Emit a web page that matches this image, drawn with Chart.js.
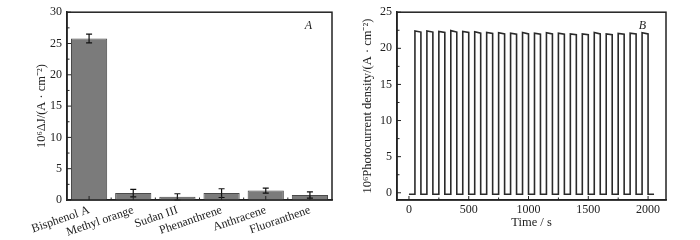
<!DOCTYPE html>
<html>
<head>
<meta charset="utf-8">
<script src="https://cdn.jsdelivr.net/npm/chart.js@4/dist/chart.umd.min.js"></script>
<style>
  body { margin: 0; background: #fff; }
  .wrap { position: relative; width: 700px; height: 240px; }
  canvas { position: absolute; top: 0; }
  #barChart { left: 0; }
  #pulseChart { left: 350px; }
</style>
</head>
<body>
<div class="wrap">
  <canvas id="barChart" width="350" height="240"></canvas>
  <canvas id="pulseChart" width="350" height="240"></canvas>
</div>
<script>
// panel A: selectivity
const compounds = ['Bisphenol A', 'Methyl orange', 'Sudan III', 'Phenanthrene', 'Anthracene', 'Fluoranthene'];
const deltaJ = [25.8, 1.1, 0.5, 1.1, 1.5, 0.8];
const deltaErr = [0.7, 0.6, 0.5, 0.7, 0.4, 0.5];
const yTicksA = [0, 5, 10, 15, 20, 25, 30];

// panel B: on/off photocurrent
const lightOn = [50, 150, 250, 350, 450, 550, 650, 750, 850, 950, 1050, 1150, 1250, 1350, 1450, 1550, 1650, 1750, 1850, 1950];
const lightOff = [100, 200, 300, 400, 500, 600, 700, 800, 900, 1000, 1100, 1200, 1300, 1400, 1500, 1600, 1700, 1800, 1900, 2000];
const peakStart = [22.4, 22.4, 22.35, 22.45, 22.35, 22.3, 22.2, 22.15, 22.1, 22.2, 22.1, 22.15, 22.1, 22.0, 22.0, 22.2, 22.0, 22.05, 22.1, 22.15];
const peakEnd = [22.25, 22.25, 22.2, 22.25, 22.2, 22.1, 22.05, 22.0, 21.95, 22.0, 21.95, 22.0, 21.95, 21.9, 21.9, 22.0, 21.9, 21.95, 22.0, 22.0];
const darkLevel = -0.2;
const runStart = 0;
const runEnd = 2050;
const yTicksB = [0, 5, 10, 15, 20, 25];
const xTicksB = [0, 500, 1000, 1500, 2000];

const serif = '"Liberation Serif", "Times New Roman", serif';
const ink = '#222';

// frame + inward ticks
const frameTicks = {
  id: 'frameTicks',
  afterDraw(chart, args, opts) {
    const { ctx, chartArea: a, scales } = chart;
    ctx.save();
    ctx.strokeStyle = ink;
    ctx.lineWidth = 1.5;
    ctx.strokeRect(a.left, a.top, a.right - a.left, a.bottom - a.top);
    ctx.lineWidth = 1;
    ctx.beginPath();
    (opts.yMajor || []).forEach(v => {
      const y = scales.y.getPixelForValue(v);
      ctx.moveTo(a.left, y); ctx.lineTo(a.left + 4, y);
    });
    (opts.yMinor || []).forEach(v => {
      const y = scales.y.getPixelForValue(v);
      ctx.moveTo(a.left, y); ctx.lineTo(a.left + 2.5, y);
    });
    (opts.xMajor || []).forEach(v => {
      const x = scales.x.getPixelForValue(v);
      ctx.moveTo(x, a.bottom); ctx.lineTo(x, a.bottom - 4);
    });
    (opts.xMinor || []).forEach(v => {
      const x = scales.x.getPixelForValue(v);
      ctx.moveTo(x, a.bottom); ctx.lineTo(x, a.bottom - 2.5);
    });
    ctx.stroke();
    if (opts.tag) {
      ctx.fillStyle = ink;
      ctx.font = 'italic 12px ' + serif;
      ctx.textAlign = 'right';
      ctx.textBaseline = 'middle';
      ctx.fillText(opts.tag, a.right - 20, a.top + 14);
    }
    ctx.restore();
  }
};

// error bars for panel A
const errorBars = {
  id: 'errorBars',
  afterDatasetsDraw(chart) {
    const { ctx } = chart;
    const y = chart.scales.y;
    const meta = chart.getDatasetMeta(0);
    ctx.save();
    ctx.strokeStyle = '#111';
    ctx.lineWidth = 1.2;
    meta.data.forEach((bar, i) => {
      const top = y.getPixelForValue(deltaJ[i] + deltaErr[i]);
      const bot = y.getPixelForValue(deltaJ[i] - deltaErr[i]);
      ctx.beginPath();
      ctx.moveTo(bar.x, top); ctx.lineTo(bar.x, bot);
      ctx.moveTo(bar.x - 3, top); ctx.lineTo(bar.x + 3, top);
      ctx.moveTo(bar.x - 3, bot); ctx.lineTo(bar.x + 3, bot);
      ctx.stroke();
    });
    ctx.restore();
  }
};

new Chart(document.getElementById('barChart'), {
  type: 'bar',
  data: {
    labels: compounds,
    datasets: [{
      data: deltaJ,
      backgroundColor: '#7b7b7b',
      borderColor: '#4a4a4a',
      borderWidth: 1,
      barPercentage: 0.82,
      categoryPercentage: 1
    }]
  },
  options: {
    responsive: false,
    animation: false,
    layout: { padding: { left: 0, right: 18, top: 10, bottom: 0 } },
    plugins: {
      legend: { display: false },
      tooltip: { enabled: false },
      frameTicks: {
        yMajor: yTicksA,
        yMinor: [2.5, 7.5, 12.5, 17.5, 22.5, 27.5],
        xMajor: [0, 1, 2, 3, 4, 5],
        xMinor: [0.5, 1.5, 2.5, 3.5, 4.5],
        tag: 'A'
      }
    },
    scales: {
      x: {
        grid: { display: false, drawTicks: false },
        border: { color: ink, width: 1.5 },
        ticks: {
          color: ink,
          font: { family: serif, size: 12 },
          autoSkip: false,
          maxRotation: 19,
          minRotation: 19,
          padding: 3
        },
        afterFit(scale) { scale.height = 40; }
      },
      y: {
        min: 0,
        max: 30,
        grid: { display: false, drawTicks: false },
        border: { color: ink, width: 1.5 },
        ticks: {
          stepSize: 5,
          color: ink,
          font: { family: serif, size: 12 },
          padding: 5
        },
        afterBuildTicks(scale) { scale.ticks = yTicksA.map(v => ({ value: v })); },
        title: {
          display: true,
          text: '10\u2076\u0394J/(A \u00b7 cm\u207b\u00b2)',
          color: ink,
          font: { family: serif, size: 12.5 },
          padding: { top: 34, bottom: 0 }
        },
        afterFit(scale) { scale.width = 67; }
      }
    }
  },
  plugins: [errorBars, frameTicks]
});

// square-wave trace from the switching times
const trace = [{ x: runStart, y: darkLevel }];
lightOn.forEach((t, i) => {
  trace.push({ x: t, y: darkLevel });
  trace.push({ x: t, y: peakStart[i] });
  trace.push({ x: lightOff[i], y: peakEnd[i] });
  trace.push({ x: lightOff[i], y: darkLevel });
});
trace.push({ x: runEnd, y: darkLevel });

new Chart(document.getElementById('pulseChart'), {
  type: 'line',
  data: {
    datasets: [{
      data: trace,
      borderColor: '#2a2a2a',
      borderWidth: 1.6,
      pointRadius: 0,
      tension: 0,
      fill: false
    }]
  },
  options: {
    responsive: false,
    animation: false,
    layout: { padding: { left: 0, right: 34, top: 9, bottom: 0 } },
    plugins: {
      legend: { display: false },
      tooltip: { enabled: false },
      frameTicks: {
        yMajor: yTicksB,
        yMinor: [2.5, 7.5, 12.5, 17.5, 22.5],
        xMajor: xTicksB,
        xMinor: [250, 750, 1250, 1750],
        tag: 'B'
      }
    },
    scales: {
      x: {
        type: 'linear',
        min: -100,
        max: 2150,
        grid: { display: false, drawTicks: false },
        border: { color: ink, width: 1.5 },
        ticks: {
          color: ink,
          font: { family: serif, size: 12 },
          padding: 3,
          maxRotation: 0,
          callback: v => String(v)
        },
        afterBuildTicks(scale) { scale.ticks = xTicksB.map(v => ({ value: v })); },
        title: {
          display: true,
          text: 'Time / s',
          color: ink,
          font: { family: serif, size: 12.5 },
          padding: { top: 0, bottom: 10 }
        },
        afterFit(scale) { scale.height = 40; }
      },
      y: {
        min: -1,
        max: 25,
        grid: { display: false, drawTicks: false },
        border: { color: ink, width: 1.5 },
        ticks: {
          color: ink,
          font: { family: serif, size: 12 },
          padding: 5
        },
        afterBuildTicks(scale) { scale.ticks = yTicksB.map(v => ({ value: v })); },
        title: {
          display: true,
          text: '10\u2076Photocurrent density/(A \u00b7 cm\u207b\u00b2)',
          color: ink,
          font: { family: serif, size: 12.5 },
          padding: { top: 10, bottom: 0 }
        },
        afterFit(scale) { scale.width = 47; }
      }
    }
  },
  plugins: [frameTicks]
});
</script>
</body>
</html>
